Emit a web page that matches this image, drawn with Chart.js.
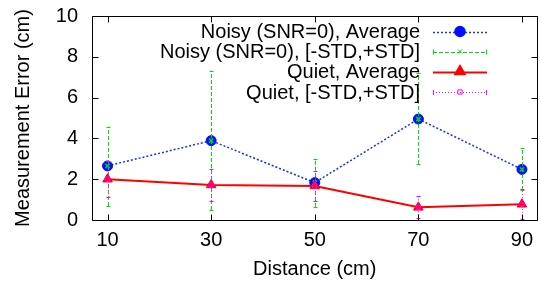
<!DOCTYPE html>
<html>
<head>
<meta charset="utf-8">
<script src="https://cdn.jsdelivr.net/npm/chart.js@4.4.0/dist/chart.umd.min.js"></script>
<style>
  html, body { margin: 0; padding: 0; overflow: hidden; background: #fff; }
  canvas { display: block; }
</style>
</head>
<body>
<canvas id="chart" width="544" height="281"></canvas>
<script>
// values
const distances = [10, 30, 50, 70, 90];
const noisyAvg  = [2.65, 3.89, 1.83, 4.95, 2.48];
const noisyLow  = [0.69, 0.49, 0.65, 2.75, 1.47];
const noisyHigh = [4.57, 7.32, 2.97, 7.22, 3.51];
const quietAvg  = [2.0, 1.72, 1.67, 0.62, 0.77];
const quietLow  = [1.11, 0.93, 0.93, 0.08, 0.04];
const quietHigh = [2.89, 2.48, 2.40, 1.19, 1.50];
const xTicks = [10, 30, 50, 70, 90];
const yTicks = [0, 2, 4, 6, 8, 10];

const FONT = "'Liberation Sans', Arial, sans-serif";
Chart.defaults.font.family = FONT;
Chart.defaults.font.size = 20;
Chart.defaults.color = '#000';

const pts = arr => distances.map((d, i) => ({ x: d, y: arr[i] }));

// error bars + gnuplot style frame and key
const gnuplotBits = {
  id: 'gnuplotBits',
  beforeDatasetDraw(chart, args) {
    const ds = chart.data.datasets[args.index];
    if (!ds.errLow) return;
    const { ctx, scales: { x, y } } = chart;
    ctx.save();
    ctx.strokeStyle = ds.borderColor;
    ctx.lineWidth = 1;
    ds.data.forEach((p, i) => {
      const px = Math.round(x.getPixelForValue(p.x)) + 0.5;
      const y1 = y.getPixelForValue(ds.errLow[i]);
      const y2 = y.getPixelForValue(ds.errHigh[i]);
      ctx.setLineDash(ds.barDash);
      ctx.beginPath(); ctx.moveTo(px, y1); ctx.lineTo(px, y2); ctx.stroke();
      ctx.setLineDash([]);
      ctx.beginPath();
      ctx.moveTo(px - 2, Math.round(y1) + 0.5); ctx.lineTo(px + 2, Math.round(y1) + 0.5);
      ctx.moveTo(px - 2, Math.round(y2) + 0.5); ctx.lineTo(px + 2, Math.round(y2) + 0.5);
      ctx.stroke();
    });
    ctx.restore();
  },
  afterDraw(chart) {
    const { ctx, chartArea: a, scales: { x, y } } = chart;
    ctx.save();
    ctx.strokeStyle = '#000';
    ctx.lineWidth = 1;
    const L = Math.round(a.left) + 0.5, R = Math.round(a.right) - 0.5;
    const T = Math.round(a.top) + 0.5, B = Math.round(a.bottom) + 0.5;
    ctx.beginPath();
    ctx.rect(L, T, R - L, B - T);
    yTicks.forEach(v => {
      const py = Math.round(y.getPixelForValue(v)) + 0.5;
      ctx.moveTo(L, py); ctx.lineTo(L + 6, py);
      ctx.moveTo(R, py); ctx.lineTo(R - 6, py);
    });
    xTicks.forEach(v => {
      const px = Math.round(x.getPixelForValue(v)) + 0.5;
      ctx.moveTo(px, B); ctx.lineTo(px, B - 6);
      ctx.moveTo(px, T); ctx.lineTo(px, T + 6);
    });
    ctx.stroke();

    // key
    const textRight = 420, x0 = 433, x1 = 487, xm = 460;
    const rows = [31.5, 51.5, 71.5, 92];
    ctx.font = '20px ' + FONT;
    ctx.textAlign = 'right';
    ctx.textBaseline = 'middle';
    chart.data.datasets.forEach((ds, i) => {
      const ry = rows[i];
      ctx.fillStyle = '#000';
      ctx.fillText(ds.label, textRight, ry + 1);
      ctx.strokeStyle = ds.borderColor;
      ctx.lineWidth = ds.keyWidth;
      ctx.setLineDash(ds.errLow ? ds.barDash : (ds.borderDash || []));
      ctx.beginPath();
      ctx.moveTo(x0, Math.round(ry) + 0.5); ctx.lineTo(x1, Math.round(ry) + 0.5);
      ctx.stroke();
      ctx.setLineDash([]);
      if (ds.errLow) {
        ctx.lineWidth = 1;
        ctx.beginPath();
        ctx.moveTo(x0 + 0.5, ry - 2); ctx.lineTo(x0 + 0.5, ry + 3);
        ctx.moveTo(x1 - 0.5, ry - 2); ctx.lineTo(x1 - 0.5, ry + 3);
        ctx.stroke();
      }
      ctx.fillStyle = ds.pointBackgroundColor;
      ctx.strokeStyle = ds.pointBorderColor;
      Chart.helpers.drawPoint(ctx, {
        pointStyle: ds.pointStyle, radius: ds.pointRadius,
        rotation: 0, borderWidth: ds.pointBorderWidth
      }, xm, ry);
    });
    ctx.restore();
  }
};

new Chart(document.getElementById('chart'), {
  type: 'line',
  data: {
    datasets: [
      {
        label: 'Noisy (SNR=0), Average',
        data: pts(noisyAvg),
        borderColor: '#1a2cff', borderWidth: 1.5, borderDash: [2, 2], keyWidth: 1.5,
        pointStyle: 'circle', pointRadius: 5,
        pointBackgroundColor: '#0010ff', pointBorderColor: '#0010ff', pointBorderWidth: 1,
        order: 4
      },
      {
        label: 'Noisy (SNR=0), [-STD,+STD]',
        data: pts(noisyAvg), showLine: false,
        errLow: noisyLow, errHigh: noisyHigh, barDash: [4, 2],
        borderColor: '#00dd00', keyWidth: 1,
        pointStyle: 'crossRot', pointRadius: 3,
        pointBackgroundColor: '#00dd00', pointBorderColor: '#00dd00', pointBorderWidth: 1.5,
        order: 3
      },
      {
        label: 'Quiet, Average',
        data: pts(quietAvg),
        borderColor: '#ff0000', borderWidth: 2, keyWidth: 2,
        pointStyle: 'triangle', pointRadius: 5.5,
        pointBackgroundColor: '#ff0000', pointBorderColor: '#ff0000', pointBorderWidth: 1,
        order: 2
      },
      {
        label: 'Quiet, [-STD,+STD]',
        data: pts(quietAvg), showLine: false,
        errLow: quietLow, errHigh: quietHigh, barDash: [1, 2],
        borderColor: '#ff00ff', keyWidth: 1,
        pointStyle: 'rect', pointRadius: 3,
        pointBackgroundColor: 'rgba(0,0,0,0)', pointBorderColor: '#ff00ff', pointBorderWidth: 1,
        order: 1
      }
    ]
  },
  options: {
    responsive: false,
    animation: false,
    events: [],
    layout: { padding: { top: 16, right: 0, left: 0, bottom: 0 } },
    plugins: { legend: { display: false }, tooltip: { enabled: false } },
    elements: { line: { tension: 0 } },
    scales: {
      x: {
        type: 'linear', min: 7, max: 93,
        afterBuildTicks: axis => { axis.ticks = xTicks.map(v => ({ value: v })); },
        afterFit: axis => { axis.height = 61; axis.paddingLeft = 0; axis.paddingRight = 0; },
        grid: { display: false, drawTicks: false },
        border: { display: false },
        ticks: { padding: 8, font: { size: 20 }, color: '#000' },
        title: { display: true, text: 'Distance (cm)', font: { size: 20 }, color: '#000', padding: 0 }
      },
      y: {
        type: 'linear', min: 0, max: 10,
        afterBuildTicks: axis => { axis.ticks = yTicks.map(v => ({ value: v })); },
        afterFit: axis => { axis.width = 92; axis.paddingTop = 0; axis.paddingBottom = 0; },
        grid: { display: false, drawTicks: false },
        border: { display: false },
        ticks: { padding: 14, font: { size: 20 }, color: '#000' },
        title: { display: true, text: 'Measurement Error (cm)', font: { size: 20 }, color: '#000', padding: { top: 11, bottom: 0 } }
      }
    }
  },
  plugins: [gnuplotBits]
});
</script>
</body>
</html>
